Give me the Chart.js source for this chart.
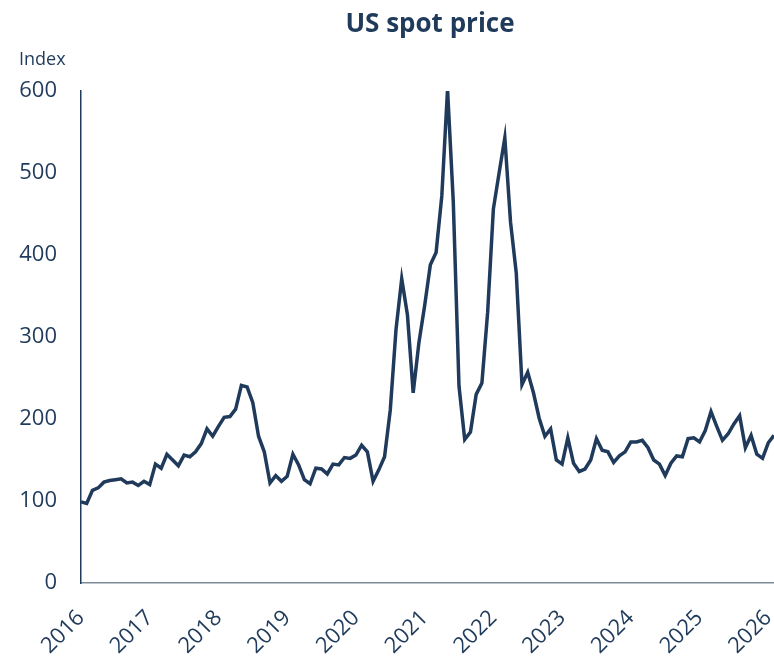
<!DOCTYPE html>
<html>
<head>
<meta charset="utf-8">
<script src="https://cdn.jsdelivr.net/npm/chart.js@4.4.1/dist/chart.umd.min.js"></script>
<style>
  body { margin: 0; background: #fff; }
  #wrap { width: 774px; height: 659px; }
</style>
</head>
<body>
<div id="wrap"><canvas id="spot" width="774" height="659"></canvas></div>
<script>
/* US spot price index, monthly, Jan 2016 - Feb 2026 */
const years = [2016, 2017, 2018, 2019, 2020, 2021, 2022, 2023, 2024, 2025, 2026];
const spotIndex = [
    99, 97, 113, 116, 123, 125, 126, 127, 122, 123, 119, 124,   // 2016
    120, 145, 140, 157, 150, 143, 156, 154, 160, 170, 188, 179, // 2017
    191, 202, 203, 212, 241, 239, 220, 179, 160, 122, 131, 124, // 2018
    130, 157, 144, 126, 121, 140, 139, 133, 145, 144, 153, 152, // 2019
    156, 168, 160, 124, 138, 154, 211, 309, 371, 327, 232, 293, // 2020
    338, 388, 403, 472, 602, 465, 240, 175, 184, 230, 244, 330, // 2021
    456, 500, 543, 440, 378, 242, 257, 232, 201, 179, 188, 150, // 2022
    145, 177, 146, 136, 139, 150, 176, 162, 160, 147, 155, 160, // 2023
    172, 172, 174, 165, 150, 145, 131, 146, 155, 154, 176, 177, // 2024
    172, 186, 209, 191, 174, 182, 194, 204, 165, 180, 157, 152, // 2025
    171, 180                                                    // 2026
];
const yTicks = [0, 100, 200, 300, 400, 500, 600];

const navy = '#1f3a5a';
const fontFamily = '"Open Sans", sans-serif';

// month labels, one per data point
const monthLabels = [];
years.forEach(function(yr) {
    for (let m = 1; m <= 12; m++) {
        monthLabels.push(yr + '-' + (m < 10 ? '0' + m : m));
    }
});
monthLabels.length = spotIndex.length;

// title + "Index" unit text
const headerText = {
    id: 'headerText',
    afterDraw(chart) {
        const ctx = chart.ctx;
        ctx.save();
        ctx.fillStyle = navy;
        ctx.textBaseline = 'middle';
        ctx.textAlign = 'center';
        ctx.font = 'bold 26px ' + fontFamily;
        ctx.fillText('US spot price', 430, 25);
        ctx.textAlign = 'left';
        ctx.font = '18px ' + fontFamily;
        ctx.fillText('Index', 19, 60);
        ctx.restore();
    }
};

const ctx_spot = document.getElementById('spot').getContext('2d');
const spotChart = new Chart(ctx_spot, {
    type: 'line',
    data: {
        labels: monthLabels,
        datasets: [{
            label: 'US spot price',
            data: spotIndex,
            borderColor: navy,
            borderWidth: 3.5,
            pointRadius: 0,
            tension: 0,
            fill: false
        }]
    },
    options: {
        responsive: false,
        animation: false,
        layout: { padding: { top: 91, right: 0, left: 0, bottom: 0 } },
        plugins: {
            legend: { display: false },
            tooltip: { enabled: false }
        },
        scales: {
            x: {
                type: 'category',
                offset: false,
                afterFit: function(scale) {
                    scale.height = 76;
                    scale.paddingLeft = 0;
                    scale.paddingRight = 0;
                },
                grid: { display: true, color: 'rgba(0,0,0,0)', drawTicks: false },
                border: { display: true, color: '#7d8a99', width: 1.5 },
                ticks: {
                    autoSkip: false,
                    minRotation: 45,
                    maxRotation: 45,
                    padding: 22,
                    color: navy,
                    font: { family: fontFamily, size: 22 },
                    callback: function(val, idx) {
                        const lab = monthLabels[idx];
                        return lab.endsWith('-01') ? lab.slice(0, 4) : '';
                    }
                }
            },
            y: {
                min: 0,
                max: 600,
                afterFit: function(scale) { scale.width = 81; },
                afterBuildTicks: function(scale) {
                    scale.ticks = yTicks.map(function(v) { return { value: v }; });
                },
                grid: { display: true, color: 'rgba(0,0,0,0)', drawTicks: false },
                border: { display: true, color: navy, width: 1.5 },
                ticks: {
                    padding: 24,
                    color: navy,
                    font: { family: fontFamily, size: 22 }
                }
            }
        }
    },
    plugins: [headerText]
});
</script>
</body>
</html>
